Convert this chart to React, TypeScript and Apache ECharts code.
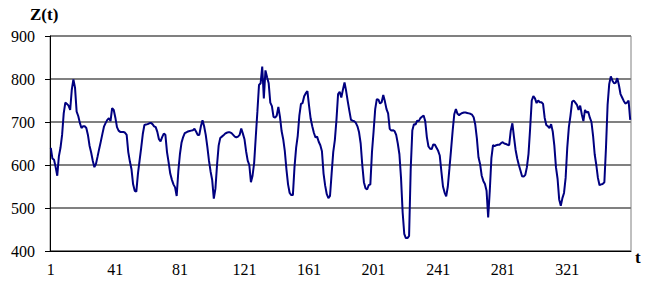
import React, { useEffect, useRef } from "react";
import * as echarts from "echarts";

const zValues: number[] = [
  640, 615, 612, 595, 575, 620, 640, 670, 720, 745,
  742, 738, 728, 775, 799, 780, 724, 714, 698, 686,
  690, 690, 686, 670, 645, 629, 610, 595, 603, 620,
  638, 655, 673, 690, 698, 705, 709, 702, 732, 728,
  710, 688, 680, 677, 677, 677, 675, 670, 630, 608,
  590, 555, 540, 538, 580, 610, 640, 672, 693, 694,
  695, 697, 698, 695, 690, 688, 677, 660, 655, 665,
  673, 670, 630, 606, 580, 566, 555, 548, 528, 585,
  625, 652, 665, 674, 676, 678, 679, 680, 681, 684,
  678, 670, 670, 690, 704, 690, 670, 642, 610, 585,
  565, 522, 545, 600, 645, 663, 666, 669, 673, 675,
  676, 676, 674, 670, 666, 664, 666, 670, 685, 673,
  660, 632, 610, 600, 560, 575, 605, 665, 724, 786,
  790, 829, 755, 820, 804, 790, 745, 737, 712, 710,
  715, 735, 712, 679, 660, 632, 590, 555, 535, 530,
  530, 595, 640, 668, 715, 742, 744, 760, 767, 772,
  738, 708, 690, 675, 664, 666, 654, 646, 632, 580,
  552, 532, 523, 528, 580, 630, 658, 705, 765, 770,
  757, 775, 792, 772, 748, 726, 705, 703, 702, 698,
  690, 676, 650, 600, 560, 546, 543, 553, 555, 630,
  678, 730, 753, 752, 743, 746, 763, 748, 730, 720,
  684, 680, 681, 679, 670, 650, 625, 570, 490, 440,
  430, 430, 435, 590, 680, 695, 694, 703, 702, 709,
  712, 715, 702, 665, 643, 638, 637, 648, 647, 640,
  633, 622, 585, 550, 536, 527, 550, 592, 635, 680,
  718, 730, 719, 716, 719, 721, 722, 722, 721, 720,
  719, 717, 711, 694, 662, 618, 602, 575, 563, 556,
  540, 478, 540, 616, 646, 644, 646, 647, 647, 651,
  653, 650, 649, 647, 646, 680, 697, 665, 635, 615,
  600, 587, 574, 573, 577, 595, 626, 685, 750, 760,
  755, 744, 750, 746, 746, 742, 710, 693, 690, 686,
  695, 678, 645, 595, 568, 520, 505, 523, 535, 570,
  640, 688, 715, 747, 750, 745, 740, 728, 738, 718,
  702, 728, 722, 724, 710, 700, 668, 625, 600, 570,
  553, 555, 556, 560, 640, 740, 788, 806, 796, 790,
  791, 802, 786, 765, 757, 749, 743, 745, 750, 705,
];

const tCategories: string[] = zValues.map((_, i) => String(i + 1));

const yMin = 400;
const yMax = 900;
const yStep = 100;
const labelEvery = 40;

const yTitle = "Z(t)";
const xTitle = "t";

export default function App() {
  const ref = useRef<HTMLDivElement>(null);

  useEffect(() => {
    if (!ref.current) return;
    const chart = echarts.init(ref.current, undefined, { renderer: "svg" });
    const serif = "Liberation Serif";
    chart.setOption({
      animation: false,
      backgroundColor: "#ffffff",
      grid: {
        left: 50,
        right: 17,
        top: 36,
        bottom: 43,
        show: true,
        borderColor: "#808080",
        borderWidth: 1,
        backgroundColor: "transparent",
      },
      xAxis: {
        type: "category",
        data: tCategories,
        boundaryGap: true,
        axisLine: { show: true, lineStyle: { color: "#000000", width: 1 } },
        axisTick: { show: false },
        axisLabel: {
          interval: (index: number) => index % labelEvery === 0,
          color: "#000000",
          fontFamily: serif,
          fontSize: 16,
          margin: 10,
        },
        splitLine: { show: false },
      },
      yAxis: {
        type: "value",
        min: yMin,
        max: yMax,
        interval: yStep,
        axisLine: { show: true, lineStyle: { color: "#000000", width: 1 } },
        axisTick: { show: true, length: 5, lineStyle: { color: "#000000" } },
        axisLabel: {
          color: "#000000",
          fontFamily: serif,
          fontSize: 16,
          margin: 15,
        },
        splitLine: { show: true, lineStyle: { color: "#808080", width: 2 } },
      },
      graphic: [
        {
          type: "text",
          left: 30,
          top: 6,
          style: {
            text: yTitle,
            fontFamily: serif,
            fontWeight: "bold",
            fontSize: 17,
            fill: "#000000",
          },
        },
        {
          type: "text",
          left: 635,
          top: 249,
          style: {
            text: xTitle,
            fontFamily: serif,
            fontWeight: "bold",
            fontSize: 17,
            fill: "#000000",
          },
        },
      ],
      series: [
        {
          type: "line",
          data: zValues,
          symbol: "none",
          lineStyle: { color: "#000080", width: 2 },
          itemStyle: { color: "#000080" },
        },
      ],
    });
    return () => chart.dispose();
  }, []);

  return (
    <div
      ref={ref}
      style={{ position: "fixed", left: 0, top: 0, width: 648, height: 294 }}
    />
  );
}
